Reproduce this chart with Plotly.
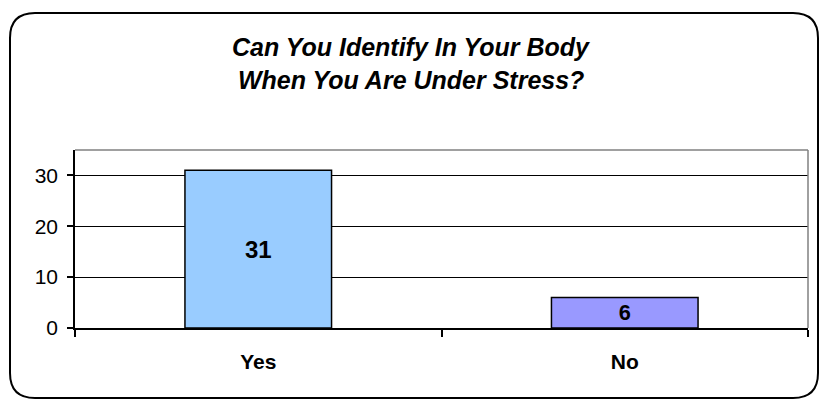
import plotly.graph_objects as go

categories = ["Yes", "No"]
values = [31, 6]
bar_colors = ["#99CCFF", "#9999FF"]
title_lines = ["Can You Identify In Your Body", "When You Are Under Stress?"]
y_ticks = [0, 10, 20, 30]

FONT = "Arial, Liberation Sans, sans-serif"
W, H = 820, 401
L, R, T, B = 75, 12, 150, 73
pw, ph = W - L - R, H - T - B

def px(x):
    return (x - L) / pw

def py(y):
    return (H - B - y) / ph

fig = go.Figure(go.Bar(
    x=categories, y=values,
    marker=dict(color=bar_colors, line=dict(color="black", width=1.5)),
    text=[str(v) for v in values],
    textposition="inside", insidetextanchor="middle",
    textfont=dict(family=FONT, size=24, color="black", weight="bold"),
    textangle=0, cliponaxis=False,
))

# rounded outer border
x0, x1, y0, y1 = px(10), px(818), py(398), py(13)
rx, ry = 25 / pw, 25 / ph
path = (f"M {x0+rx},{y1} L {x1-rx},{y1} Q {x1},{y1} {x1},{y1-ry} "
        f"L {x1},{y0+ry} Q {x1},{y0} {x1-rx},{y0} "
        f"L {x0+rx},{y0} Q {x0},{y0} {x0},{y0+ry} "
        f"L {x0},{y1-ry} Q {x0},{y1} {x0+rx},{y1} Z")
shapes = [
    dict(type="path", xref="paper", yref="paper", path=path,
         line=dict(color="black", width=2), layer="below"),
    dict(type="line", xref="paper", yref="paper", x0=0, x1=1, y0=1, y1=1,
         line=dict(color="#808080", width=1.5)),
    dict(type="line", xref="paper", yref="paper", x0=1, x1=1, y0=0, y1=1,
         line=dict(color="#808080", width=1.5)),
]

title_font = dict(family=FONT, size=25, color="black", weight="bold", style="italic")
annotations = [
    dict(text=title_lines[0], xref="paper", yref="paper", x=px(411), y=py(47),
         showarrow=False, xanchor="center", yanchor="middle", font=title_font),
    dict(text=title_lines[1], xref="paper", yref="paper", x=px(411), y=py(80),
         showarrow=False, xanchor="center", yanchor="middle", font=title_font),
]

fig.update_layout(
    width=W, height=H,
    margin=dict(l=L, r=R, t=T, b=B),
    paper_bgcolor="white", plot_bgcolor="white",
    showlegend=False, bargap=0.6,
    shapes=shapes, annotations=annotations,
)
fig.update_xaxes(
    showline=True, linecolor="black", linewidth=1.5,
    ticks="outside", tickson="boundaries", ticklen=7, tickcolor="black", tickwidth=1.5,
    tickfont=dict(family=FONT, size=21, color="black", weight="bold"),
    ticklabelstandoff=14, showgrid=False,
)
fig.update_yaxes(
    range=[0, 35], tickvals=y_ticks,
    showline=True, linecolor="black", linewidth=1.5,
    ticks="outside", ticklen=6, tickcolor="black", tickwidth=1.5,
    tickfont=dict(family=FONT, size=21, color="black"),
    ticklabelstandoff=5,
    showgrid=True, gridcolor="black", gridwidth=1.2,
    zeroline=True, zerolinecolor="black", zerolinewidth=1.2,
)

fig.write_html("out.html", config={"displayModeBar": False},
               post_script="document.body.style.margin='0';")
